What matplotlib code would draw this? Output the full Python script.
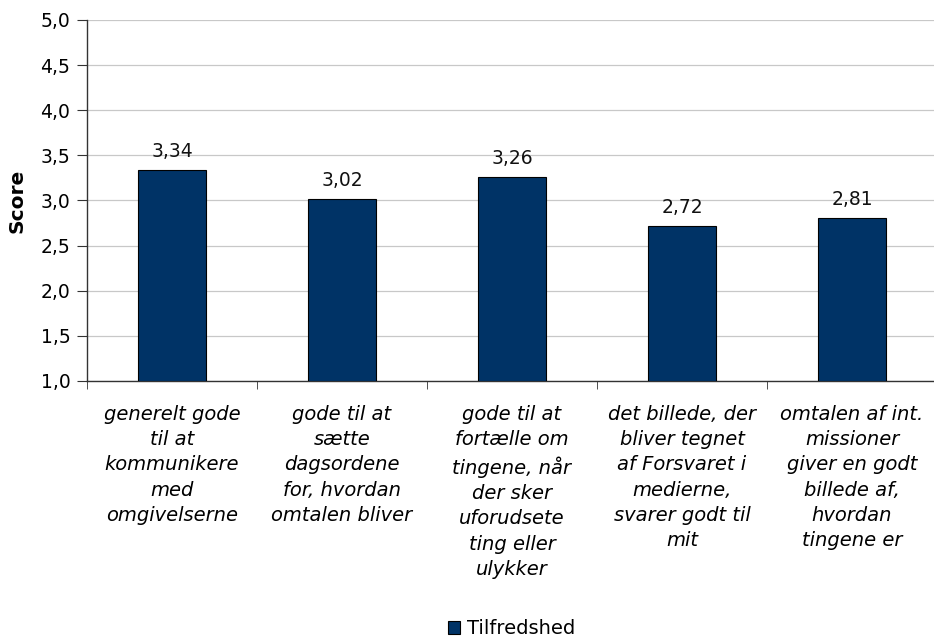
import matplotlib
matplotlib.use("Agg")
import matplotlib.pyplot as plt
import numpy as np

categories = [
    "generelt gode\ntil at\nkommunikere\nmed\nomgivelserne",
    "gode til at\nsætte\ndagsordene\nfor, hvordan\nomtalen bliver",
    "gode til at\nfortælle om\ntingene, når\nder sker\nuforudsete\nting eller\nulykker",
    "det billede, der\nbliver tegnet\naf Forsvaret i\nmedierne,\nsvarer godt til\nmit",
    "omtalen af int.\nmissioner\ngiver en godt\nbillede af,\nhvordan\ntingene er",
]
values = [3.34, 3.02, 3.26, 2.72, 2.81]
series_name = "Tilfredshed"
yticks = [1.0, 1.5, 2.0, 2.5, 3.0, 3.5, 4.0, 4.5, 5.0]

plt.rcParams['font.family'] = ['DejaVu Sans']
fig = plt.figure(figsize=(9.34, 6.39), dpi=100)
ax = fig.add_axes([87/934, 1-381/639, (937-87)/934, (381-20)/639])

x = np.arange(len(values))
bars = ax.bar(x, [v - 1.0 for v in values], bottom=1.0, width=0.405,
              color="#003366", edgecolor="black", linewidth=0.8, zorder=3,
              label=series_name)
for xi, v in zip(x, values):
    ax.text(xi, v + 0.145, f"{v:.2f}".replace(".", ","), ha="center", va="baseline",
            fontsize=13.5, color="#111111")

ax.set_ylim(1.0, 5.0)
ax.set_xlim(-0.5, len(values) - 0.5)
ax.set_yticks(yticks)
ax.set_yticklabels([f"{t:.1f}".replace(".", ",") for t in yticks], fontsize=13.5)
ax.yaxis.grid(True, color="#c8c8c8", linewidth=0.9, zorder=0)
ax.set_axisbelow(True)

ax.set_xticks(x)
ax.set_xticklabels(categories, fontsize=14, style="italic", linespacing=1.42, va="top")
ax.tick_params(axis="x", which="major", length=0, pad=17)
ax.set_xticks(np.arange(-0.5, len(values) + 0.5, 1.0), minor=True)
ax.tick_params(axis="x", which="minor", length=6, direction="out", color="#333333")
ax.tick_params(axis="y", length=7, direction="out", color="#333333", pad=5)

for s in ["top", "right"]:
    ax.spines[s].set_visible(False)
for s in ["left", "bottom"]:
    ax.spines[s].set_color("#333333")
    ax.spines[s].set_linewidth(1.0)

ax.set_ylabel("Score", fontsize=14.5, fontweight="bold", labelpad=10)

fig.legend(handles=[bars], labels=[series_name], loc="center",
           bbox_to_anchor=(512/934, 1-629/639),
           frameon=False, fontsize=14, handlelength=0.62, handleheight=0.62, handletextpad=0.35)

fig.savefig("out.png", dpi=100)
